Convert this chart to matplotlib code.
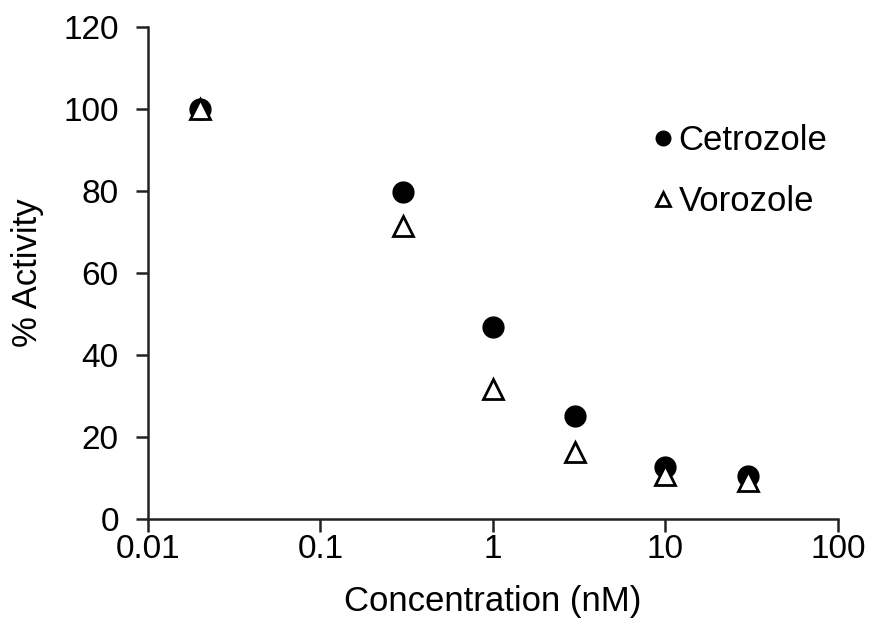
import matplotlib
matplotlib.use("Agg")
import matplotlib.pyplot as plt

plt.rcParams['font.family'] = ['Liberation Sans', 'DejaVu Sans']

conc = [0.02, 0.3, 1, 3, 10, 30]
cetrozole = [100.0, 79.8, 46.8, 25.1, 12.7, 10.5]
vorozole = [100.0, 71.5, 31.7, 16.3, 10.7, 9.3]
xticks = [0.01, 0.1, 1, 10, 100]
xticklabels = ["0.01", "0.1", "1", "10", "100"]
yticks = [0, 20, 40, 60, 80, 100, 120]

fig = plt.figure(figsize=(8.74, 6.44), dpi=100)
ax = fig.add_axes([0.1693, 0.1941, 0.7895, 0.7639])

ax.plot(conc, cetrozole, linestyle='none', marker='o', markersize=15,
        color='black', label='Cetrozole')
ax.plot(conc, vorozole, linestyle='none', marker='^', markersize=14,
        markerfacecolor='white', markeredgecolor='black', markeredgewidth=2,
        label='Vorozole')

ax.set_xscale('log')
ax.set_xlim(0.01, 100)
ax.set_ylim(0, 120)
ax.set_xticks(xticks)
ax.set_xticklabels(xticklabels)
ax.minorticks_off()
ax.set_yticks(yticks)

for s in ['top', 'right']:
    ax.spines[s].set_visible(False)
for s in ['left', 'bottom']:
    ax.spines[s].set_linewidth(1.8)
    ax.spines[s].set_color('#222222')

ax.tick_params(axis='both', labelsize=24, width=1.8, length=9, colors='#222222',
               labelcolor='black')
ax.tick_params(axis='x', pad=2)
ax.tick_params(axis='y', pad=12)

ax.set_xlabel('Concentration (nM)', fontsize=25, labelpad=14)
ax.set_ylabel('% Activity', fontsize=25, labelpad=14)

ax.legend(loc='upper left', bbox_to_anchor=(0.726, 0.803), frameon=False,
          fontsize=25, markerscale=0.7, handletextpad=0.05, labelspacing=0.8,
          handlelength=0.8, borderpad=0, borderaxespad=0)

fig.savefig('out.png', dpi=100)
